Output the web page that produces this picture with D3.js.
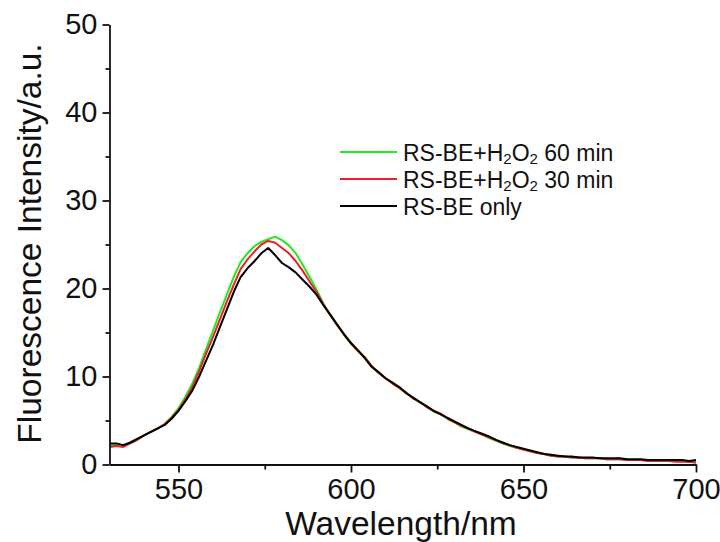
<!DOCTYPE html>
<html>
<head>
<meta charset="utf-8">
<script src="https://cdn.jsdelivr.net/npm/d3@7"></script>
<style>
  html, body { margin: 0; padding: 0; background: #fff; }
  svg { display: block; font-family: "Liberation Sans", Arial, sans-serif; }
</style>
</head>
<body>
<svg id="chart" width="720" height="542"></svg>
<script>
// ---------- DATA ----------
const wavelengths = d3.range(530, 701, 2);

const blackOnly = [
  2.4, 2.4, 2.2, 2.5, 2.9, 3.3, 3.7, 4.1, 4.5, 5.2,
  6.1, 7.2, 8.4, 10.0, 11.8, 13.6, 15.6, 17.6, 19.6, 21.3,
  22.3, 23.1, 24.0, 24.6, 23.8, 22.9, 22.4, 21.8, 21.0, 20.2,
  19.3, 18.1, 17.0, 15.9, 14.8, 13.8, 13.0, 12.1, 11.1, 10.5,
  9.8, 9.3, 8.8, 8.1, 7.6, 7.1, 6.6, 6.1, 5.7, 5.3,
  4.9, 4.5, 4.1, 3.8, 3.5, 3.2, 2.8, 2.5, 2.2, 2.0,
  1.8, 1.6, 1.4, 1.2, 1.1, 1.0, 0.9, 0.9, 0.8, 0.8,
  0.8, 0.7, 0.7, 0.7, 0.7, 0.6, 0.6, 0.6, 0.5, 0.5,
  0.5, 0.5, 0.5, 0.5, 0.4, 0.5
];

const red30 = [
  2.0, 2.1, 2.0, 2.4, 2.8, 3.3, 3.7, 4.1, 4.6, 5.3,
  6.2, 7.4, 8.8, 10.6, 12.6, 14.5, 16.5, 18.5, 20.4, 22.2,
  23.3, 24.2, 25.0, 25.4, 25.2, 24.6, 24.0, 23.1, 22.0, 20.8,
  19.6, 18.2, 17.0, 15.8, 14.8, 13.8, 12.9, 12.2, 11.2, 10.4,
  9.8, 9.2, 8.7, 8.2, 7.5, 7.1, 6.5, 6.1, 5.8, 5.2,
  4.8, 4.4, 4.1, 3.7, 3.4, 3.1, 2.8, 2.4, 2.2, 1.9,
  1.7, 1.5, 1.3, 1.2, 1.0, 0.9, 0.9, 0.8, 0.8, 0.7,
  0.7, 0.7, 0.6, 0.6, 0.6, 0.5, 0.5, 0.5, 0.4, 0.4,
  0.4, 0.4, 0.3, 0.3, 0.3, 0.2
];

const green60 = [
  2.2, 2.2, 2.1, 2.4, 2.8, 3.3, 3.7, 4.1, 4.6, 5.4,
  6.4, 7.7, 9.2, 11.0, 13.1, 15.2, 17.3, 19.3, 21.3, 23.0,
  24.0, 24.8, 25.3, 25.6, 25.9, 25.5, 24.9, 24.0, 22.7, 21.3,
  19.9, 18.3, 17.0, 15.9, 14.7, 13.7, 12.9, 12.1, 11.1, 10.4,
  9.8, 9.3, 8.7, 8.1, 7.6, 7.0, 6.6, 6.0, 5.7, 5.2,
  4.8, 4.3, 4.0, 3.7, 3.4, 3.0, 2.7, 2.4, 2.1, 1.9,
  1.7, 1.5, 1.3, 1.2, 1.0, 0.9, 0.9, 0.8, 0.8, 0.7,
  0.7, 0.7, 0.6, 0.6, 0.6, 0.5, 0.5, 0.5, 0.5, 0.4,
  0.4, 0.4, 0.4, 0.4, 0.3, 0.3
];

const xMajorTicks = [550, 600, 650, 700];
const xMinorTicks = [575, 625, 675];
const yMajorTicks = [0, 10, 20, 30, 40, 50];
const yMinorTicks = [5, 15, 25, 35, 45];

const seriesNames = ["60 min", "30 min", "only"];
const seriesColors = ["#22e81e", "#e8202a", "#000000"];

// ---------- CHART ----------
const svg = d3.select("#chart");
const padL = 109.5, padR = 696, padT = 24.5, padB = 464.5;

const x = d3.scaleLinear().domain([530, 700]).range([padL, padR]);
const y = d3.scaleLinear().domain([0, 50]).range([padB, padT]);

const FONT_TICK = 29;

const series = [
  { vals: green60, color: seriesColors[0] },
  { vals: red30, color: seriesColors[1] },
  { vals: blackOnly, color: seriesColors[2] }
];
const line = d3.line()
  .x((d, i) => x(wavelengths[i]))
  .y(d => y(d));

series.forEach(s => {
  svg.append("path")
    .datum(s.vals)
    .attr("fill", "none")
    .attr("stroke", s.color)
    .attr("stroke-width", 2)
    .attr("stroke-linejoin", "round")
    .attr("d", line);
});

function styleAxis(g) {
  g.selectAll("path, line").attr("stroke", "#111").attr("stroke-width", 1.8);
  g.selectAll("text").attr("fill", "#111").style("font-size", FONT_TICK + "px")
    .style("font-family", '"Liberation Sans", Arial, sans-serif');
}

const xAxis = svg.append("g").attr("transform", `translate(0,${padB})`)
  .call(d3.axisBottom(x).tickValues(xMajorTicks).tickSize(8).tickSizeOuter(0).tickPadding(6).tickFormat(d3.format("d")));
styleAxis(xAxis);
const xMinor = svg.append("g").attr("transform", `translate(0,${padB})`)
  .call(d3.axisBottom(x).tickValues(xMinorTicks).tickSize(5).tickSizeOuter(0).tickFormat(""));
styleAxis(xMinor);
xMinor.select("path").remove();

const yAxis = svg.append("g").attr("transform", `translate(${padL},0)`)
  .call(d3.axisLeft(y).tickValues(yMajorTicks).tickSize(7).tickSizeOuter(0).tickPadding(5).tickFormat(d3.format("d")));
styleAxis(yAxis);
const yMinor = svg.append("g").attr("transform", `translate(${padL},0)`)
  .call(d3.axisLeft(y).tickValues(yMinorTicks).tickSize(4).tickSizeOuter(0).tickFormat(""));
styleAxis(yMinor);
yMinor.select("path").remove();

svg.append("text")
  .attr("x", 401).attr("y", 535)
  .attr("text-anchor", "middle")
  .attr("fill", "#111")
  .style("font-size", "33.5px")
  .text("Wavelength/nm");

svg.append("text")
  .attr("transform", "translate(41,243.5) rotate(-90)")
  .attr("text-anchor", "middle")
  .attr("fill", "#111")
  .style("font-size", "33.5px")
  .text("Fluorescence Intensity/a.u.");

const legendY = [160.5, 187.5, 214.5];
const legend = svg.append("g");
const FONT_LEG = 23;
[0, 1, 2].forEach(i => {
  const yy = legendY[i];
  legend.append("line")
    .attr("x1", 340).attr("x2", 397)
    .attr("y1", yy - 8.5).attr("y2", yy - 8.5)
    .attr("stroke", seriesColors[i]).attr("stroke-width", 2);
  const t = legend.append("text")
    .attr("x", 403).attr("y", yy)
    .attr("fill", "#111")
    .style("font-size", FONT_LEG + "px");
  if (i < 2) {
    t.append("tspan").text("RS-BE+H");
    t.append("tspan").attr("dy", 3).style("font-size", "15px").text("2");
    t.append("tspan").attr("dy", -3).text("O");
    t.append("tspan").attr("dy", 3).style("font-size", "15px").text("2");
    t.append("tspan").attr("dy", -3).text(" " + seriesNames[i]);
  } else {
    t.text("RS-BE " + seriesNames[i]);
  }
});
</script>
</body>
</html>
